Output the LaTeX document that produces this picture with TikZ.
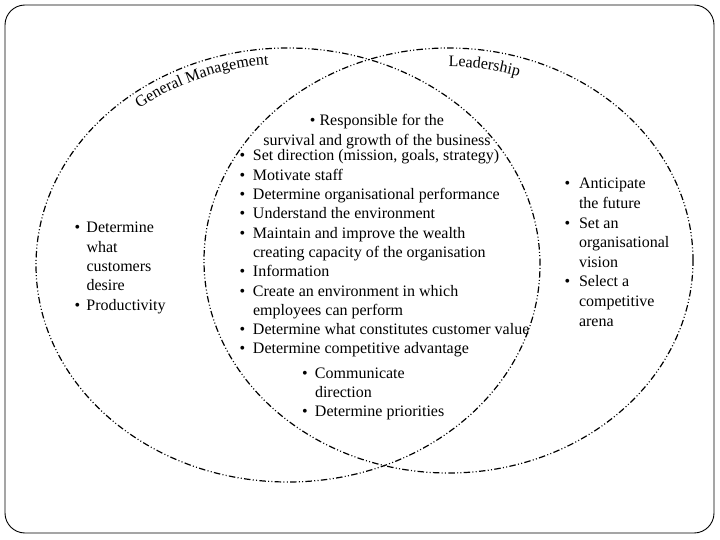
\documentclass[tikz,border=0pt]{standalone}
\usepackage{fontspec}
\setmainfont{Liberation Serif}
\usetikzlibrary{decorations.text}
\newcommand\bul[1]{\makebox[#1][l]{\textbullet}}
\begin{document}
\begin{tikzpicture}[x=1pt,y=1pt,
  venn/.style={line width=1.2pt, dash pattern=on 6.5pt off 2.3pt on 1pt off 2.3pt on 1pt off 2.3pt},
  frame/.style={line width=0.9pt, rounded corners=20pt},
  txt/.style={inner sep=0pt, outer sep=0pt, font=\fontsize{16}{19.3}\selectfont, anchor=base west}]
\useasboundingbox (0,0) rectangle (720,-540);
\draw[frame] (5,-5) rectangle (714,-533);
\draw[venn] (288,-265) ellipse [x radius=252, y radius=217];
\draw[venn] (448.5,-260.5) ellipse [x radius=244.5, y radius=212.5];
\path[decorate, decoration={text along path, text={|\fontsize{16}{19}\selectfont|General Management}, text align=left}]
  ([shift={(129:236 and 201)}]288,-265) arc[start angle=129, end angle=80, x radius=236, y radius=201];
\path[decorate, decoration={text along path, text={|\fontsize{16}{19}\selectfont|Leadership}, text align=left}]
  ([shift={(90:226 and 194)}]448.5,-260.5) arc[start angle=90, end angle=50, x radius=226, y radius=194];
\node[txt, anchor=base] (resp) at (377,-126) {\begin{tabular}[t]{@{}c@{}}\textbullet\ Responsible for the\\ survival and growth of the business\end{tabular}};
\node[txt] (main) at (239.5,-161) {\begin{tabular}[t]{@{}l@{}}
\bul{13.5pt}Set direction (mission, goals, strategy)\\
\bul{13.5pt}Motivate staff\\
\bul{13.5pt}Determine organisational performance\\
\bul{13.5pt}Understand the environment\\
\bul{13.5pt}Maintain and improve the wealth\\
\hspace*{13.5pt}creating capacity of the organisation\\
\bul{13.5pt}Information\\
\bul{13.5pt}Create an environment in which\\
\hspace*{13.5pt}employees can perform\\
\bul{13.5pt}Determine what constitutes customer value\\
\bul{13.5pt}Determine competitive advantage
\end{tabular}};
\node[txt] (sub) at (302,-378) {\begin{tabular}[t]{@{}l@{}}
\bul{13pt}Communicate\\
\hspace*{13pt}direction\\
\bul{13pt}Determine priorities
\end{tabular}};
\node[txt] (gm) at (74.5,-233) {\begin{tabular}[t]{@{}l@{}}
\bul{12pt}Determine\\
\hspace*{12pt}what\\
\hspace*{12pt}customers\\
\hspace*{12pt}desire\\
\bul{12pt}Productivity
\end{tabular}};
\node[txt, font=\fontsize{16}{19.6}\selectfont] (lead) at (564.5,-189) {\begin{tabular}[t]{@{}l@{}}
\bul{14.5pt}Anticipate\\
\hspace*{14.5pt}the future\\
\bul{14.5pt}Set an\\
\hspace*{14.5pt}organisational\\
\hspace*{14.5pt}vision\\
\bul{14.5pt}Select a\\
\hspace*{14.5pt}competitive\\
\hspace*{14.5pt}arena
\end{tabular}};
\end{tikzpicture}
\end{document}
